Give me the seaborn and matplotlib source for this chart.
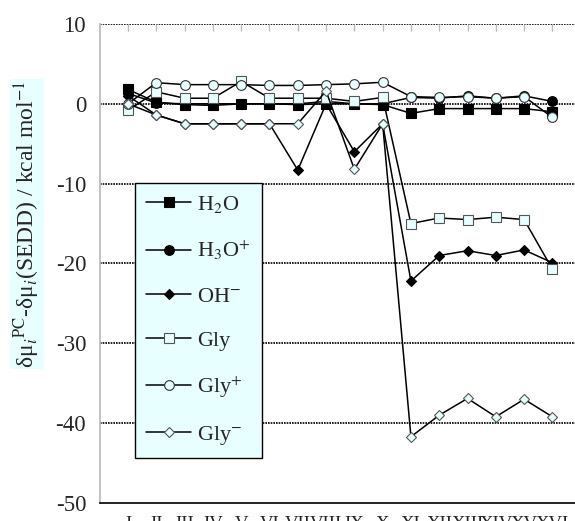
import numpy as np
import pandas as pd
import matplotlib
matplotlib.use('Agg')
import matplotlib.pyplot as plt
import seaborn as sns

# data
cats = ['I', 'II', 'III', 'IV', 'V', 'VI', 'VII', 'VIII', 'IX', 'X',
        'XI', 'XII', 'XIII', 'XIV', 'XV', 'XVI']
h2o = [1.8, 0.2, -0.1, -0.2, 0.0, 0.0, -0.1, 0.0, 0.0, -0.1,
       -1.2, -0.6, -0.6, -0.6, -0.6, -1.0]
h3o = [1.3, 0.1, 0.0, 0.0, 0.0, 0.0, 0.0, 0.3, 0.0, 0.0,
       0.8, 0.7, 1.0, 0.7, 1.0, 0.3]
oh = [1.0, -1.4, -2.5, -2.5, -2.5, -2.5, -8.3, 0.0, -6.0, -2.5,
      -22.2, -19.0, -18.4, -19.0, -18.3, -19.9]
gly = [-0.8, 1.5, 0.7, 0.7, 2.8, 0.7, 0.7, 0.7, 0.3, 0.8,
       -15.0, -14.3, -14.5, -14.2, -14.5, -20.7]
gly_p = [0.0, 2.65, 2.4, 2.4, 2.4, 2.3, 2.3, 2.4, 2.5, 2.7,
         0.9, 0.8, 0.9, 0.7, 0.9, -1.7]
gly_m = [0.0, -1.4, -2.5, -2.5, -2.5, -2.5, -2.5, 1.6, -8.2, -2.5,
         -41.7, -39.0, -36.9, -39.2, -37.0, -39.2]

labels = [r'H$_2$O', r'H$_3$O$^{+}$', r'OH$^{-}$', 'Gly', r'Gly$^{+}$', r'Gly$^{-}$']
series = [h2o, h3o, oh, gly, gly_p, gly_m]

sns.set_theme(style='white')
plt.rcParams['font.family'] = ['Liberation Serif', 'DejaVu Serif']
plt.rcParams['mathtext.fontset'] = 'stix'
plt.rcParams['axes.unicode_minus'] = False

light = '#E8FFFF'
styles = [
    dict(marker='s', markersize=7, markerfacecolor='black', markeredgecolor='black'),
    dict(marker='o', markersize=7, markerfacecolor='black', markeredgecolor='black'),
    dict(marker='D', markersize=5.5, markerfacecolor='black', markeredgecolor='black'),
    dict(marker='s', markersize=7, markerfacecolor=light, markeredgecolor='#555555'),
    dict(marker='o', markersize=7, markerfacecolor=light, markeredgecolor='#333333'),
    dict(marker='D', markersize=5.5, markerfacecolor=light, markeredgecolor='#555555'),
]

fig = plt.figure(figsize=(5.75, 5.21), dpi=100)
ax = fig.add_axes([0.174, 0.0345, 0.826, 0.9195])

x = np.arange(len(cats))
for lab, vals, st in zip(labels, series, styles):
    df = pd.DataFrame({'x': x, 'y': vals})
    sns.lineplot(data=df, x='x', y='y', ax=ax, color='black', linewidth=1.1,
                 label=lab, markeredgewidth=0.8, **st)

ax.set_ylim(-50, 10)
ax.set_xlim(-0.99, 15.8)
ax.set_yticks(np.arange(-50, 11, 10))
ax.set_xticks(x)
ax.set_xticklabels(cats, fontsize=13.5)
ax.set_xlabel('')
ax.set_ylabel('')
ax.tick_params(axis='y', length=0, labelsize=16.5, pad=10)
ax.tick_params(axis='x', direction='in', top=True, length=5, color='#bbbbbb',
               width=1, pad=9)
for yv in range(-40, 11, 10):
    ax.axhline(yv, color='black', linestyle=(0, (1, 0.6)), linewidth=1.2, zorder=0)

ax.spines['right'].set_visible(False)
ax.spines['top'].set_visible(False)
ax.spines['left'].set_color('#bbbbbb')
ax.spines['bottom'].set_color('black')
ax.spines['bottom'].set_linewidth(1.2)

leg = ax.legend(loc='upper left', bbox_to_anchor=(0.074, 0.668), fontsize=16,
                frameon=True, fancybox=False, facecolor=light, edgecolor='black',
                framealpha=1, handlelength=2.0, labelspacing=1.07, borderpad=0.5,
                handletextpad=0.3, borderaxespad=0)
leg.get_frame().set_linewidth(1.0)

fig.text(0.047, 0.57, r'δμ$_i$$^{\mathrm{PC}}$-δμ$_i$(SEDD) / kcal mol$^{-1}$',
         rotation=90, ha='center', va='center', fontsize=17,
         bbox=dict(facecolor=light, edgecolor='none', pad=1))

fig.savefig('out.png', dpi=100)
